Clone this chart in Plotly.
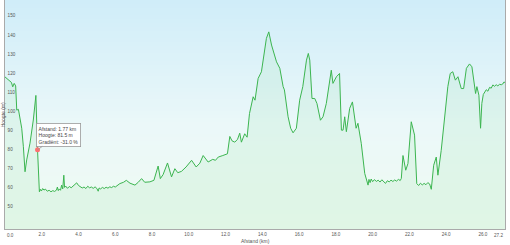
import numpy as np
import plotly.graph_objects as go

# ---- data ----
dist_km = [0.00, 0.10, 0.25, 0.35, 0.42, 0.50, 0.58, 0.64, 0.73, 0.82, 0.91, 1.00, 1.09, 1.18, 1.36, 1.54, 1.68, 1.77,
           1.87, 1.92, 1.98, 2.05, 2.12, 2.20, 2.30, 2.40, 2.50, 2.60, 2.70, 2.80, 2.85, 2.90, 2.95, 3.02, 3.08, 3.14,
           3.20, 3.24, 3.30, 3.40, 3.50, 3.60, 3.70, 3.80, 3.90, 4.00, 4.10, 4.20, 4.30, 4.40, 4.50, 4.60, 4.70, 4.80,
           4.90, 5.00, 5.07, 5.12, 5.20, 5.30, 5.40, 5.50, 5.60, 5.70, 5.80, 5.90, 6.00, 6.10,
           6.25, 6.45, 6.60, 6.80, 7.07, 7.25, 7.43, 7.60, 7.88, 8.10,
           8.33, 8.45, 8.60, 8.84, 9.06, 9.24, 9.40, 9.60, 9.85, 10.15, 10.40, 10.60, 10.78, 11.05, 11.30, 11.45, 11.60,
           11.85, 12.10, 12.23, 12.35, 12.50, 12.65, 12.77, 12.86, 13.04, 13.17, 13.30, 13.50, 13.60, 13.77, 13.95,
           14.04, 14.22, 14.35, 14.50, 14.77, 14.95, 15.13, 15.20, 15.40, 15.54, 15.67, 15.85, 16.03, 16.20, 16.40,
           16.50, 16.58, 16.70, 16.85, 16.97, 17.16, 17.30, 17.48, 17.75, 17.84, 18.03, 18.20, 18.30, 18.39, 18.48,
           18.57, 18.75, 18.90, 19.02, 19.10, 19.20, 19.38, 19.57, 19.75, 19.80, 19.86, 19.92, 20.00, 20.10, 20.20,
           20.30, 20.40, 20.50, 20.60, 20.70, 20.80, 20.90, 21.00, 21.10, 21.20, 21.30, 21.40, 21.50, 21.56, 21.65,
           21.80, 21.92, 22.10, 22.19, 22.28, 22.40, 22.50, 22.60, 22.70, 22.80, 22.90, 23.00, 23.10, 23.19, 23.32,
           23.46, 23.55, 23.73, 23.90, 24.09, 24.22, 24.36, 24.50, 24.64, 24.82, 24.95, 25.10, 25.27, 25.40, 25.54,
           25.60, 25.67, 25.78, 25.87, 25.94, 26.02, 26.09, 26.18, 26.27, 26.36, 26.45, 26.54, 26.63, 26.72, 26.81,
           26.90, 27.00, 27.08, 27.14, 27.20]
elev_m = [119.7, 118.8, 117.5, 116.8, 114.5, 116.3, 115.0, 102.3, 102.7, 98.0, 92.8, 83.1, 70.0, 76.2, 85.0, 97.1, 110.0, 81.5,
          59.5, 60.8, 59.9, 61.2, 60.4, 60.9, 59.8, 60.3, 59.5, 60.1, 59.7, 60.4, 62.0, 60.1, 61.0, 60.3, 63.0, 61.0,
          68.2, 61.8, 62.5, 61.3, 62.3, 61.6, 62.6, 63.3, 64.2, 62.8, 62.2, 61.5, 62.0, 61.2, 62.4, 61.6, 62.0, 61.3,
          62.1, 61.2, 59.8, 61.5, 61.0, 61.8, 61.2, 61.9, 61.4, 62.1, 61.7, 62.4, 62.0, 62.8,
          63.8, 64.5, 65.5, 64.0, 63.0, 64.5, 66.4, 64.5, 64.7, 65.5,
          73.0, 66.4, 68.5, 74.6, 67.3, 71.6, 69.5, 70.2, 72.5, 76.0, 72.5, 74.5, 78.5, 75.1, 76.5, 76.0, 77.7,
          78.5, 79.4, 88.5, 86.2, 85.5, 87.0, 90.2, 85.5, 89.9, 88.1, 100.5, 109.3, 107.5, 118.9, 122.4,
          128.5, 139.9, 143.3, 136.4, 127.6, 124.2, 114.6, 112.9, 98.8, 92.8, 90.4, 92.8, 107.5, 114.6, 128.5,
          132.0, 128.5, 108.4, 108.4, 105.8, 97.0, 98.8, 105.8, 123.2, 116.3, 119.8, 121.5, 91.8, 91.8, 98.8,
          91.0, 103.2, 106.6, 96.2, 92.8, 95.4, 84.9, 69.1, 63.0, 66.0, 64.3, 66.2, 64.8, 65.9, 64.9,
          65.6, 64.6, 65.8, 64.9, 63.9, 65.3, 64.7, 65.6, 64.9, 65.7, 65.1, 66.0, 65.4, 66.5, 78.5,
          70.8, 74.3, 96.2, 92.8, 89.2, 63.8, 62.8, 64.0, 63.1, 63.9, 63.2, 64.3, 63.6, 60.8, 73.4,
          77.7, 68.2, 81.2, 95.4, 114.6, 121.5, 122.4, 118.0, 119.8, 113.6, 113.6, 124.2, 126.5, 125.0, 112.9,
          111.0, 114.6, 110.1, 92.8, 105.8, 110.5, 111.5, 113.0, 112.2, 114.2, 113.8, 115.5, 114.8, 115.6, 115.0,
          115.8, 115.6, 116.0, 117.0, 116.8]

x_ticks = [0.0, 2.0, 4.0, 6.0, 8.0, 10.0, 12.0, 14.0, 16.0, 18.0, 20.0, 22.0, 24.0, 26.0, 27.2]
y_ticks = [50, 60, 70, 80, 90, 100, 110, 120, 130, 140, 150]

marker_km = 1.77
marker_m = 81.5
tooltip_lines = ["Afstand: 1.77 km", "Hoogte: 81.5 m", "Gradiënt: -31.0 %"]

x_title = "Afstand (km)"
y_title = "Hoogte (m)"

x_range = [0, 27.2]
y_range = [40, 160]

# ---- figure ----
fig = go.Figure()

# background gradient (decoration)
edges = np.linspace(y_range[0], y_range[1], 61)
zbg = [[v] for v in np.linspace(0, 1, 60)]
fig.add_trace(go.Heatmap(
    x=x_range, y=edges, z=zbg, showscale=False, hoverinfo="skip",
    colorscale=[[0, "#effbf1"], [0.45, "#ebf8f9"], [1, "#d0edf9"]],
))

fig.add_trace(go.Scatter(
    x=dist_km, y=elev_m, mode="lines", fill="tozeroy",
    fillcolor="rgba(150,225,170,0.16)",
    line=dict(color="#3cb550", width=1.0), hoverinfo="skip",
))

fig.add_trace(go.Scatter(
    x=[marker_km], y=[marker_m], mode="markers",
    marker=dict(color="#ff7070", size=5, symbol="circle"), hoverinfo="skip",
))

fam = "Liberation Sans, Arial, sans-serif"
font_small = dict(family=fam, size=4.6, color="#555")

annotations = [
    dict(x=marker_km, y=marker_m, xref="x", yref="y", text="<br>".join(tooltip_lines),
         showarrow=True, ax=21, ay=-15, arrowhead=0, arrowwidth=0.8, arrowcolor="#999",
         align="left", bgcolor="white", bordercolor="#999", borderwidth=0.8, borderpad=1.8,
         font=dict(family=fam, size=5, color="#444")),
    dict(x=0.5, y=0, xref="paper", yref="paper", yshift=-12.3, yanchor="middle", showarrow=False,
         borderpad=0, text=x_title, font=dict(family=fam, size=5, color="#555")),
    dict(x=0, y=0.5, xref="paper", yref="paper", xshift=-2.2, xanchor="center", showarrow=False,
         borderpad=0, text=y_title, textangle=-90, font=dict(family=fam, size=5, color="#555")),
    # end tick labels kept inside the chart
    dict(x=x_ticks[0], y=0, xref="x", yref="paper", yshift=-2, xanchor="left", yanchor="top",
         showarrow=False, text=f"{x_ticks[0]:.1f}", font=font_small),
    dict(x=x_ticks[-1], y=0, xref="x", yref="paper", yshift=-2, xanchor="right", yanchor="top",
         showarrow=False, text=f"{x_ticks[-1]:.1f}", font=font_small),
]

fig.update_layout(
    width=510, height=245,
    margin=dict(l=5, r=4.5, t=0, b=16.3),
    paper_bgcolor="white", plot_bgcolor="white",
    showlegend=False,
    annotations=annotations,
)

fig.update_xaxes(
    range=x_range, tickvals=x_ticks[1:-1], ticktext=[f"{v:.1f}" for v in x_ticks[1:-1]],
    tickfont=font_small, ticks="", ticklen=0, showgrid=False, zeroline=False,
    showline=True, linecolor="#aaa", linewidth=1, mirror=False, fixedrange=True,
)
fig.update_yaxes(
    range=y_range, tickvals=y_ticks, ticktext=[str(v) for v in y_ticks],
    ticklabelposition="inside top", tickfont=font_small, ticks="",
    showgrid=True, gridcolor="#c6dbe2", gridwidth=1, zeroline=False,
    showline=True, linecolor="#aaa", linewidth=1, mirror=True, fixedrange=True,
)

fig.write_html("out.html", config={"displayModeBar": False})
